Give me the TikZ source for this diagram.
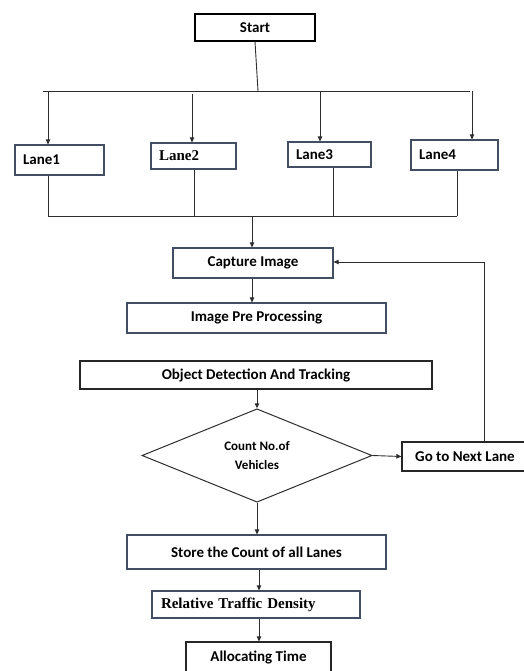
\documentclass[tikz,border=0pt]{standalone}
\usepackage{fontspec}
\usepackage{tikz}
\usetikzlibrary{arrows.meta,shapes.geometric}
\usepackage{xcolor}
\newfontfamily\calfont{Carlito}
\newfontfamily\timesfont{Liberation Serif}
\definecolor{boxcol}{RGB}{66,78,100}
\definecolor{linecol}{RGB}{45,45,45}

\begin{document}
\begin{tikzpicture}[x=1pt,y=-1pt,
  box/.style={draw=boxcol,line width=1.2pt,fill=white,inner sep=0pt,
    font={\calfont\bfseries\fontsize{15}{18}\selectfont}},
  lane/.style={box,text width=#1,align=left,inner xsep=8pt},
  serif/.style={font={\timesfont\bfseries\fontsize{15}{18}\selectfont}},
  link/.style={draw=linecol,line width=0.9pt},
  arr/.style={link,-{Triangle[length=5pt,width=4.5pt]}}]
  \useasboundingbox (0,0) rectangle (523,671);
  % boxes
  \node[box,draw=black,minimum width=120,minimum height=27] (start) at (255,27.5) {Start};
  \node[lane=73pt,minimum height=30] (lane1) at (59.5,160) {Lane1};
  \node[lane=69pt,serif,minimum height=26] (lane2) at (193.5,156) {Lane2};
  \node[lane=67pt,minimum height=25] (lane3) at (329.5,154.5) {Lane3};
  \node[lane=71pt,minimum height=30] (lane4) at (454.5,155) {Lane4};
  \node[box,minimum width=160,minimum height=30] (capture) at (253,263) {Capture Image};
  \node[box,minimum width=259,minimum height=30] (prepro) at (256.5,318) {Image Pre Processing};
  \node[box,draw=black!85,minimum width=352,minimum height=28] (detect) at (256,375) {Object Detection And Tracking};
  \node[diamond,draw=linecol,line width=1pt,minimum width=230,minimum height=85,inner sep=0pt,
    align=center,font={\calfont\bfseries\fontsize{13}{19}\selectfont}] (count) at (257,455.5) {Count No.of\\Vehicles};
  \node[box,draw=black!85,minimum width=126,minimum height=29] (next) at (465,456.5) {Go to Next Lane};
  \node[box,minimum width=259,minimum height=34] (store) at (256.5,552) {Store the Count of all Lanes};
  \node[lane=190pt,serif,inner xsep=9pt,minimum height=27] (density) at (256,604.5) {Relative Traffic Density};
  \node[box,draw=black!85,minimum width=145,minimum height=30] (alloc) at (258.5,657) {Allocating Time};
  % split to the lanes
  \coordinate (top) at (258,91);
  \coordinate (busL) at (43,91);
  \coordinate (busR) at (470,91);
  \coordinate (a1) at (48,91);
  \coordinate (a2) at (192,94);
  \coordinate (a3) at (320,91);
  \coordinate (a4) at (472,91);
  \draw[link] (start.south) -- (top);
  \draw[link] (busL) -- (busR);
  \draw[arr] (a1) -- (a1 |- lane1.north);
  \draw[arr] (a2) -- (a2 |- lane2.north);
  \draw[arr] (a3) -- (a3 |- lane3.north);
  \draw[arr] (a4) -- (a4 |- lane4.north);
  % join the lanes
  \coordinate (b1) at (48,216);
  \coordinate (b2) at (194,216);
  \coordinate (b3) at (333,216);
  \coordinate (b4) at (457,216);
  \coordinate (mid) at (252,216);
  \draw[link] (b1 |- lane1.south) -- (b1);
  \draw[link] (b2 |- lane2.south) -- (b2);
  \draw[link] (b3 |- lane3.south) -- (b3);
  \draw[link] (b4 |- lane4.south) -- (b4);
  \draw[link] (b1) -- (b4);
  \draw[arr] (mid) -- (mid |- capture.north);
  % main flow
  \draw[arr] (mid |- capture.south) -- (mid |- prepro.north);
  \draw[arr] (detect.south -| count.north) -- (count.north);
  \draw[arr] (count.east) -- (next.west);
  \coordinate (back) at (484,262);
  \draw[arr] (back |- next.north) -- (back) -- (back -| capture.east);
  \draw[arr] (count.south) -- (count.south |- store.north);
  \coordinate (c) at (259,0);
  \draw[arr] (c |- store.south) -- (c |- density.north);
  \draw[arr] (c |- density.south) -- (c |- alloc.north);
\end{tikzpicture}
\end{document}
